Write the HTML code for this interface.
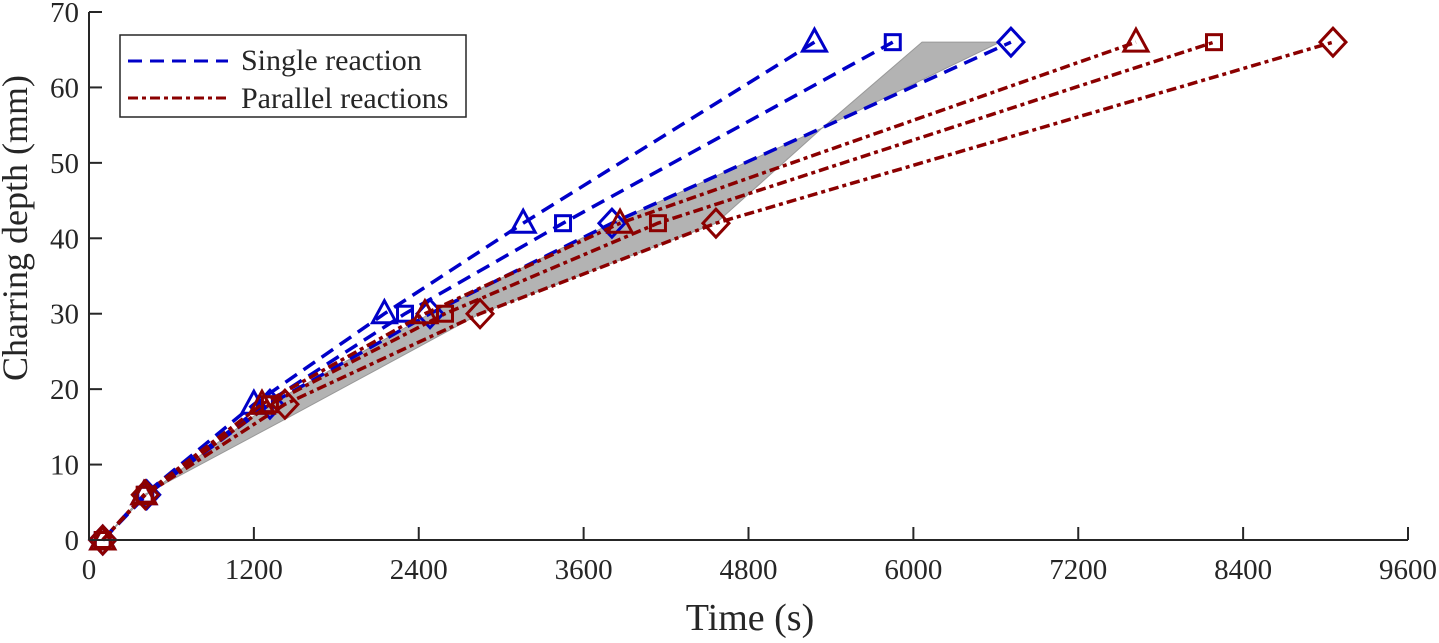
<!DOCTYPE html>
<html><head><meta charset="utf-8"><style>
body{margin:0;background:#fff}
svg text{font-family:"Liberation Serif",serif;fill:#262626}
</style></head><body>
<svg id="chart" width="1439" height="638" xmlns="http://www.w3.org/2000/svg"></svg>
<script>
const xTicks=[0,1200,2400,3600,4800,6000,7200,8400,9600];
const yTicks=[0,10,20,30,40,50,60,70];
const depths=[0,6,18,30,42,66];
const singleTri=[100,400,1200,2150,3160,5280];
const singleSq=[100,410,1280,2300,3450,5850];
const singleDia=[100,420,1317,2482,3806,6710];
const parTri=[100,400,1259,2445,3865,7620];
const parSq=[100,405,1317,2591,4141,8188];
const parDia=[100,410,1426,2846,4563,9054];
const bandX=[6063,5335,4563,2846,1426,400,100,420,1317,2482,3806,5335,6630];
const bandY=[66,54.6,42,30,16,6,0,6,18,30,42,54.6,66];
const NS='http://www.w3.org/2000/svg';
const svg=document.getElementById('chart');
const X=t=>89+t*(1408-89)/9600;
const Y=d=>540-d*(540-12)/70;
function mk(tag,attrs,parent){const e=document.createElementNS(NS,tag);for(const k in attrs)e.setAttribute(k,attrs[k]);(parent||svg).appendChild(e);return e;}
let bp=mk('polygon',{points:bandX.map((t,i)=>X(t)+','+Y(bandY[i])).join(' '),fill:'#b3b3b3',stroke:'#999',"stroke-width":1});


const series=[
 {name:'single-triangle',xs:singleTri,c:'#0000c8',dash:'14 8',m:'tri'},
 {name:'single-square',xs:singleSq,c:'#0000c8',dash:'14 8',m:'sq'},
 {name:'single-diamond',xs:singleDia,c:'#0000c8',dash:'14 8',m:'dia'},
 {name:'parallel-triangle',xs:parTri,c:'#8b0000',dash:'10 4 4 4',m:'tri'},
 {name:'parallel-square',xs:parSq,c:'#8b0000',dash:'10 4 4 4',m:'sq'},
 {name:'parallel-diamond',xs:parDia,c:'#8b0000',dash:'10 4 4 4',m:'dia'}];
function marker(type,x,y,c,g){
 let e;
 if(type==='tri')e=mk('polygon',{points:`${x},${y-13} ${x-12},${y+9} ${x+12},${y+9}`},g);
 else if(type==='sq')e=mk('rect',{x:x-7.5,y:y-7.5,width:15,height:15},g);
 else e=mk('polygon',{points:`${x},${y-14} ${x+13},${y} ${x},${y+14} ${x-13},${y}`},g);
 e.setAttribute('fill','none');e.setAttribute('stroke',c);e.setAttribute('stroke-width',3);
 
 
}
series.forEach(s=>{
 const g=mk('g',{});
 
 
 const l=mk('polyline',{points:s.xs.map((t,i)=>X(t)+','+Y(depths[i])).join(' '),fill:'none',stroke:s.c,'stroke-width':3.5,'stroke-dasharray':s.dash},g);
 
 
 s.xs.forEach((t,i)=>marker(s.m,X(t),Y(depths[i]),s.c,g));
});
const ax=mk('g',{stroke:'#262626','stroke-width':2});


mk('line',{x1:89,y1:540,x2:1408,y2:540},ax);
mk('line',{x1:89,y1:12,x2:89,y2:540},ax);
xTicks.forEach(t=>{
 mk('line',{x1:X(t),y1:540,x2:X(t),y2:527},ax);
 const tx=mk('text',{x:X(t),y:579,'text-anchor':'middle','font-size':29});tx.textContent=t;
 
 
});
yTicks.forEach(d=>{
 mk('line',{x1:89,y1:Y(d),x2:102,y2:Y(d)},ax);
 const tx=mk('text',{x:79,y:Y(d)+10,'text-anchor':'end','font-size':29});tx.textContent=d;
 
 
});
let xt=mk('text',{x:750,y:630,'text-anchor':'middle','font-size':38});xt.textContent='Time (s)';


let yt=mk('text',{x:0,y:0,'text-anchor':'middle','font-size':36,transform:'translate(27,228) rotate(-90)'});yt.textContent='Charring depth (mm)';


const lg=mk('g',{});


mk('rect',{x:120,y:35,width:346,height:82,fill:'#fff',stroke:'#262626','stroke-width':1.5},lg);
mk('line',{x1:128,y1:61,x2:228,y2:61,stroke:'#0000c8','stroke-width':3,'stroke-dasharray':'14 8'},lg);
mk('line',{x1:128,y1:98,x2:228,y2:98,stroke:'#8b0000','stroke-width':3,'stroke-dasharray':'10 4 4 4'},lg);
let l1=mk('text',{x:241,y:70,'font-size':30},lg);l1.textContent='Single reaction';


let l2=mk('text',{x:241,y:108,'font-size':30},lg);l2.textContent='Parallel reactions';


</script>
</body></html>
